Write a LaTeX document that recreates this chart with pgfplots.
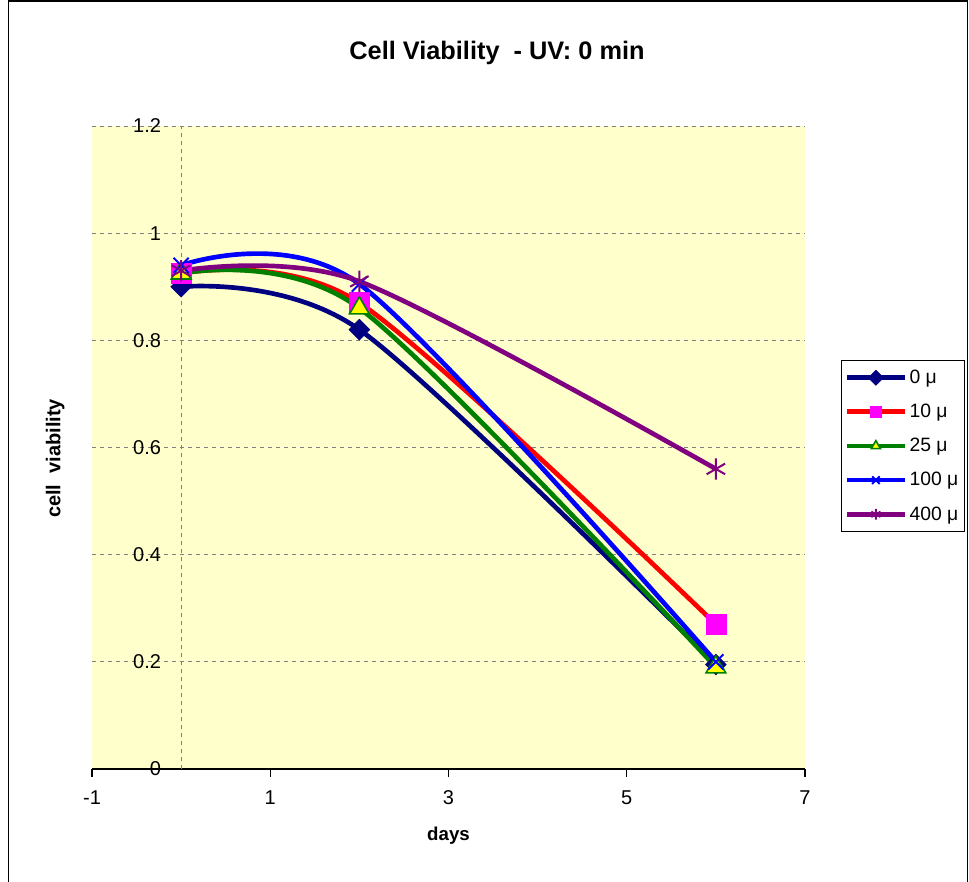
\documentclass[border=0pt]{standalone}
\usepackage{fontspec}
\setmainfont{Liberation Sans}
\usepackage{pgfplots}
\pgfplotsset{compat=1.18}
\definecolor{plotbg}{RGB}{255,255,204}
\definecolor{cnavy}{RGB}{0,0,128}
\definecolor{cred}{RGB}{255,0,0}
\definecolor{cmag}{RGB}{255,0,255}
\definecolor{cgreen}{RGB}{0,128,0}
\definecolor{cyel}{RGB}{255,255,0}
\definecolor{cblue}{RGB}{0,0,255}
\definecolor{cpurp}{RGB}{128,0,128}
\begin{document}
\begin{tikzpicture}
\useasboundingbox (0,0) rectangle (726.75pt,660.75pt);
\draw[black, line width=1pt] (6.5pt,-2pt) rectangle (725.6pt,660pt);
\begin{axis}[
  at={(69pt,84pt)}, anchor=south west,
  scale only axis, width=534.75pt, height=482.25pt,
  xmin=-1, xmax=7, ymin=0, ymax=1.2,
  axis background/.style={fill=plotbg},
  axis x line*=bottom, axis y line*=left,
  x axis line style={black, line width=1pt},
  y axis line style={draw=none},
  xtick={-1,1,3,5,7}, xticklabels={-1,1,3,5,7},
  ytick={0,0.2,0.4,0.6,0.8,1,1.2}, yticklabels={0,0.2,0.4,0.6,0.8,1,1.2},
  ytick style={draw=none},
  xtick style={black, line width=0.8pt},
  xtick align=outside, major tick length=6pt,
  ymajorgrids, grid style={dashed, gray, line width=0.6pt},
  extra x ticks={0}, extra x tick labels={},
  extra x tick style={xmajorgrids=true, major tick length=0pt},
  tick label style={font=\fontsize{15}{17}\selectfont},
  yticklabel style={anchor=east, xshift=55.3pt},
  xticklabel style={yshift=-6.5pt},
  title={\textbf{Cell Viability\ \ - UV: 0 min}},
  title style={font=\fontsize{19}{22}\selectfont, at={(axis description cs:0.568,1.101)}, anchor=center},
  xlabel={\textbf{days}},
  xlabel style={font=\fontsize{14}{16}\selectfont, at={(axis description cs:0.5,-0.104)}, anchor=center},
  ylabel={\textbf{cell\ \ viability}},
  ylabel style={font=\fontsize{15}{17}\selectfont, at={(axis description cs:-0.0515,0.483)}, anchor=center, rotate=0},
  legend style={at={(axis description cs:1.0505,0.636)}, anchor=north west,
    draw=black, line width=0.8pt, fill=white, font=\fontsize{14.5}{16}\selectfont,
    row sep=10pt, inner xsep=2.5pt, inner ysep=5pt,
    cells={anchor=west}},
  legend cell align=left,
  legend image code/.code={\draw[mark repeat=2,mark phase=2] plot coordinates {(0pt,0pt) (21.5pt,0pt) (43pt,0pt)};},
  legend image post style={mark size=4pt},
  every axis plot/.append style={line width=3.5pt, smooth},
]
\addplot[cnavy, mark=square*, mark size=5.5pt, mark options={solid, rotate=45, fill=cnavy, draw=cnavy, line width=0.5pt}]
  coordinates {(0,0.90) (2,0.82) (6,0.195)};
\addlegendentry{0 μ}
\addplot[cred, mark=square*, mark size=7.5pt, mark options={solid, fill=cmag, draw=cmag, line width=0.5pt}]
  coordinates {(0,0.925) (2,0.87) (6,0.27)};
\addlegendentry{10 μ}
\addplot[cgreen, mark=triangle*, mark size=8.5pt, mark options={solid, fill=cyel, draw=cgreen, line width=1.2pt}]
  coordinates {(0,0.925) (2,0.86) (6,0.19)};
\addlegendentry{25 μ}
\addplot[cblue, mark=x, mark size=8pt, mark options={solid, draw=cblue, line width=1.5pt}]
  coordinates {(0,0.94) (2,0.905) (6,0.20)};
\addlegendentry{100 μ}
\addplot[cpurp, mark=asterisk, mark size=8pt, mark options={solid, draw=cpurp, line width=1.5pt}]
  coordinates {(0,0.93) (2,0.91) (6,0.56)};
\addlegendentry{400 μ}
\end{axis}
\end{tikzpicture}
\end{document}
